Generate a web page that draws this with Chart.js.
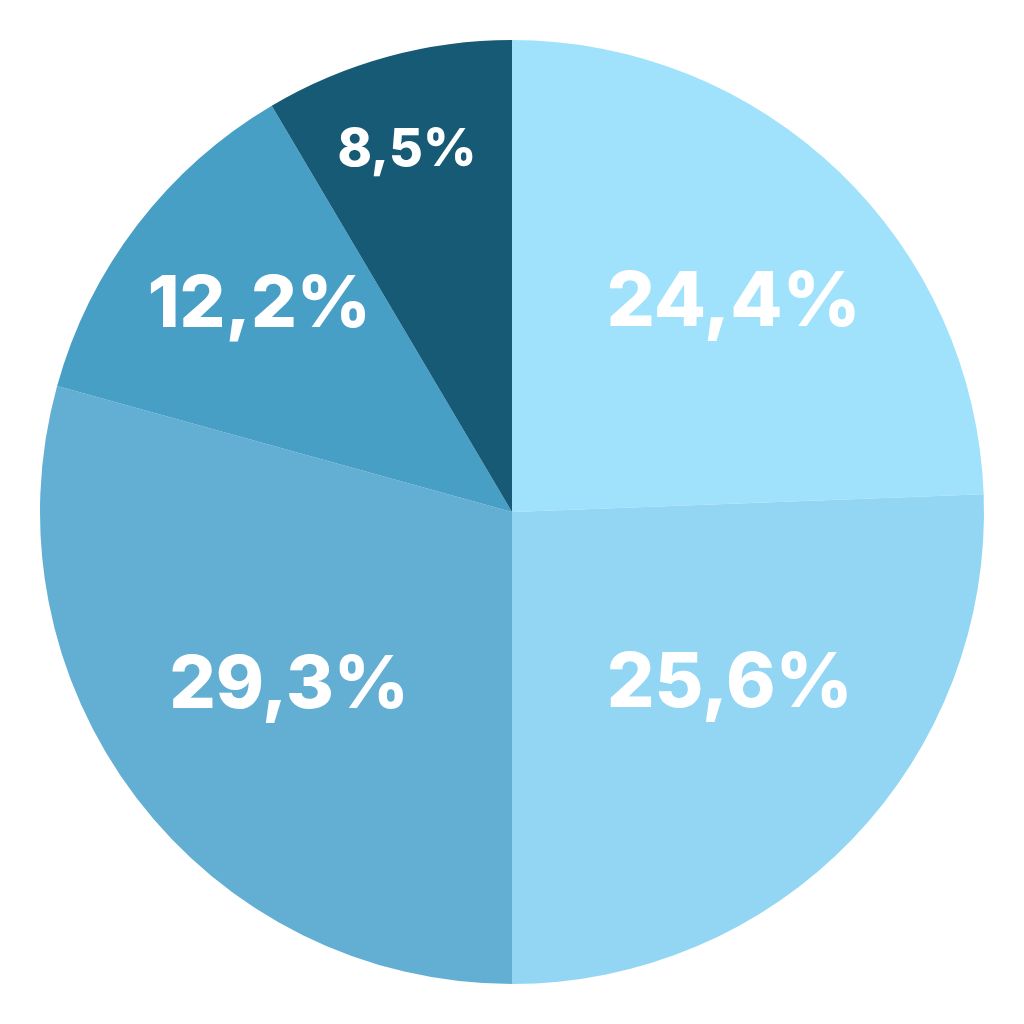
<!DOCTYPE html>
<html>
<head>
<meta charset="utf-8">
<script src="https://cdn.jsdelivr.net/npm/chart.js@4"></script>
<style>
  html, body { margin: 0; padding: 0; background: #fff; }
  #pie { display: block; }
</style>
</head>
<body>
<canvas id="pie" width="1024" height="1024"></canvas>
<script>
const labels = ["A", "B", "C", "D", "E"];
const shares = [24.4, 25.6, 29.3, 12.2, 8.5];
const colors = ["#a0e1fc", "#93d6f4", "#62afd3", "#489fc5", "#175a75"];

// label placement (fraction of radius, angle nudge in degrees) and font size
const labelRadius = [0.645, 0.588, 0.599, 0.691, 0.798];
const labelNudge = [2.8, -5.6, -0.7, 1.8, -0.9];
const labelSize = [76, 75, 73, 72, 52];

const sliceLabels = {
  id: "sliceLabels",
  afterDatasetsDraw(chart) {
    const ctx = chart.ctx;
    const arcs = chart.getDatasetMeta(0).data;
    ctx.save();
    ctx.fillStyle = "#ffffff";
    ctx.textAlign = "center";
    ctx.textBaseline = "middle";
    arcs.forEach((arc, i) => {
      const { x, y, startAngle, endAngle, outerRadius } = arc.getProps(
        ["x", "y", "startAngle", "endAngle", "outerRadius"],
        true
      );
      const mid = (startAngle + endAngle) / 2 + (labelNudge[i] * Math.PI) / 180;
      const r = outerRadius * labelRadius[i];
      const text = shares[i].toFixed(1).replace(".", ",") + "%";
      ctx.font = `800 ${labelSize[i]}px Inter, "Open Sans", sans-serif`;
      ctx.fillText(text, x + Math.cos(mid) * r, y + Math.sin(mid) * r);
    });
    ctx.restore();
  },
};

new Chart(document.getElementById("pie"), {
  type: "pie",
  data: {
    labels,
    datasets: [
      {
        data: shares,
        backgroundColor: colors,
        borderWidth: 0,
      },
    ],
  },
  options: {
    responsive: false,
    animation: false,
    layout: { padding: 40 },
    plugins: {
      legend: { display: false },
      tooltip: { enabled: false },
    },
  },
  plugins: [sliceLabels],
});
</script>
</body>
</html>
